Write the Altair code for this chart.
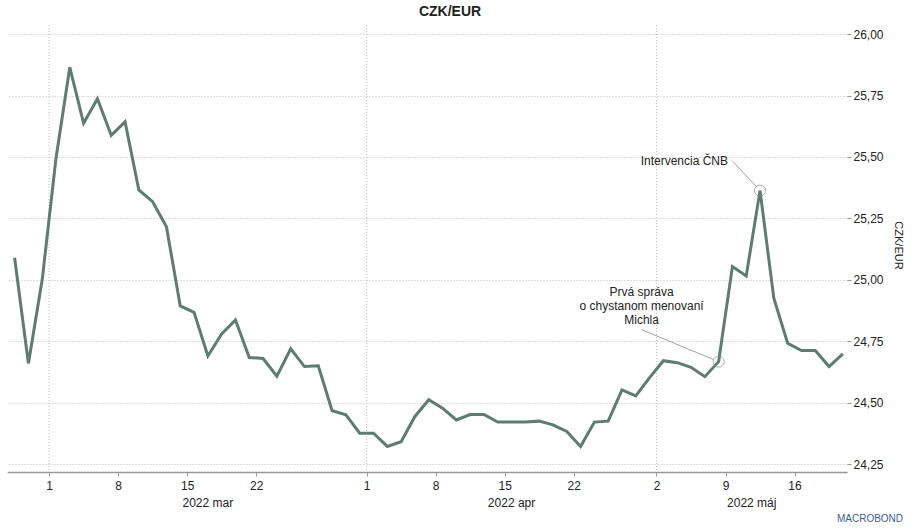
import altair as alt
import pandas as pd

# Daily CZK/EUR fixing, business days 24 Feb 2022 - 19 May 2022
dates = pd.bdate_range("2022-02-24", "2022-05-19")
rate = [25.09, 24.66, 25.00, 25.495, 25.865, 25.637, 25.737, 25.588, 25.643, 25.366,
        25.318, 25.216, 24.894, 24.868, 24.690, 24.780, 24.837, 24.684, 24.680, 24.608,
        24.719, 24.647, 24.650, 24.467, 24.451, 24.376, 24.376, 24.322, 24.341, 24.444,
        24.512, 24.478, 24.430, 24.452, 24.452, 24.421, 24.421, 24.421, 24.425, 24.410,
        24.383, 24.322, 24.421, 24.425, 24.552, 24.528, 24.602, 24.671, 24.663, 24.644,
        24.606, 24.667, 25.054, 25.016, 25.363, 24.925, 24.742, 24.712, 24.712, 24.647,
        24.699]

tick_dates = ["2022-03-01", "2022-03-08", "2022-03-15", "2022-03-22",
              "2022-04-01", "2022-04-08", "2022-04-15", "2022-04-22",
              "2022-05-02", "2022-05-09", "2022-05-16"]
month_starts = ["2022-03-01", "2022-04-01", "2022-05-02"]
month_names = ["2022 mar", "2022 apr", "2022 máj"]
y_ticks = [24.25, 24.50, 24.75, 25.00, 25.25, 25.50, 25.75, 26.00]

# annotated days and their labels
note_dates = ["2022-05-11", "2022-05-06"]
note_lines = [["Intervencia ČNB"], ["Prvá správa", "o chystanom menovaní", "Michla"]]

# ---- geometry of the plot area ----
W, H = 840, 447
X_DOM = [-0.55, 60.3]
Y_DOM = [24.218, 26.037]
LINE_COLOR = "#5e7c74"
GRID_COLOR = "#bdbdbd"
AXIS_COLOR = "#9a9a9a"
FONT = "Liberation Sans"

pos = {d.strftime("%Y-%m-%d"): i for i, d in enumerate(dates)}
df = pd.DataFrame({"i": range(len(dates)), "v": rate})

# axis ticks sit half a day before each labelled date
tick_vals = [pos[d] - 0.5 for d in tick_dates]
tick_text = [str(pd.Timestamp(d).day) for d in tick_dates]
label_expr = "[{}][indexof([{}], datum.value)]".format(
    ",".join("'%s'" % t for t in tick_text), ",".join(str(t) for t in tick_vals))

grid_df = pd.DataFrame({"i": [pos[d] - 0.5 for d in month_starts]})

# month captions centred on the visible part of each month
edges = [pos[d] - 0.5 for d in month_starts] + [X_DOM[1]]
month_df = pd.DataFrame({
    "i": [(edges[k] + edges[k + 1]) / 2 for k in range(len(month_names))],
    "t": month_names,
})

px_x = (X_DOM[1] - X_DOM[0]) / W
px_y = (Y_DOM[1] - Y_DOM[0]) / H

# label placement in pixels relative to the marked point:
# (text anchor dx, first-line dy, alignment, leader start dx, leader start dy)
placement = [(-32, -30, "right", -28, -30), (-77, -70, "center", -77, -32)]
R = 5.5  # marker radius in px

marks, leaders, texts = [], [], []
for d, lines, (tdx, tdy, al, lx, ly) in zip(note_dates, note_lines, placement):
    i = pos[d]
    v = rate[i]
    marks.append({"i": i, "v": v})
    L = (lx ** 2 + ly ** 2) ** 0.5
    ex, ey = lx * R / L, ly * R / L
    leaders.append({"i": i + lx * px_x, "v": v - ly * px_y,
                    "i2": i + ex * px_x, "v2": v - ey * px_y})
    for k, t in enumerate(lines):
        texts.append({"i": i + tdx * px_x, "v": v - (tdy + 14.3 * k) * px_y,
                      "t": t, "al": al})

mark_df = pd.DataFrame(marks)
lead_df = pd.DataFrame(leaders)
text_right = pd.DataFrame([t for t in texts if t["al"] == "right"])
text_center = pd.DataFrame([t for t in texts if t["al"] == "center"])

xs = alt.Scale(domain=X_DOM, nice=False, zero=False)
ys = alt.Scale(domain=Y_DOM, nice=False, zero=False)

x_axis = alt.Axis(values=tick_vals, labelExpr=label_expr, grid=False,
                  domainColor=AXIS_COLOR, domainWidth=1.5, tickColor=AXIS_COLOR,
                  tickSize=4, labelPadding=4, labelFontSize=12, labelColor="#222",
                  labelFont=FONT, labelOverlap=False, title=None)
y_axis = alt.Axis(orient="right", values=y_ticks, domain=False,
                  labelExpr="replace(format(datum.value, '.2f'), '.', ',')",
                  grid=True, gridDash=[1, 2], gridColor=GRID_COLOR,
                  tickColor=AXIS_COLOR, tickSize=4, labelPadding=2,
                  labelFontSize=12, labelColor="#222", labelFont=FONT,
                  title="CZK/EUR", titleAngle=90, titleFontSize=11,
                  titleFontWeight="normal", titleColor="#222", titleFont=FONT,
                  titleX=50, titleY=220, titleAlign="center", titleBaseline="middle")

# month-start vertical gridlines (drawn first, under the series)
grid = alt.Chart(grid_df).mark_rule(color=GRID_COLOR, strokeDash=[1, 2]).encode(
    x=alt.X("i:Q", scale=xs, axis=x_axis))

line = alt.Chart(df).mark_line(color=LINE_COLOR, strokeWidth=3).encode(
    x=alt.X("i:Q", scale=xs, axis=x_axis),
    y=alt.Y("v:Q", scale=ys, axis=y_axis))

circles = alt.Chart(mark_df).mark_point(
    shape="circle", size=4 * R * R, color="#8a8a8a", strokeWidth=1, filled=False
).encode(x=alt.X("i:Q", scale=xs), y=alt.Y("v:Q", scale=ys))

lead = alt.Chart(lead_df).mark_rule(color="#8a8a8a", strokeWidth=0.8).encode(
    x=alt.X("i:Q", scale=xs), y=alt.Y("v:Q", scale=ys), x2="i2:Q", y2="v2:Q")

note_r = alt.Chart(text_right).mark_text(
    align="right", baseline="middle", fontSize=12, font=FONT, color="#222"
).encode(x=alt.X("i:Q", scale=xs), y=alt.Y("v:Q", scale=ys), text="t:N")

note_c = alt.Chart(text_center).mark_text(
    align="center", baseline="middle", fontSize=12, font=FONT, color="#222"
).encode(x=alt.X("i:Q", scale=xs), y=alt.Y("v:Q", scale=ys), text="t:N")

months = alt.Chart(month_df).mark_text(
    align="center", baseline="middle", fontSize=12, font=FONT, color="#222"
).encode(x=alt.X("i:Q", scale=xs), y=alt.value(H + 31), text="t:N")

logo = alt.Chart(pd.DataFrame({"t": ["MACROBOND"]})).mark_text(
    align="center", baseline="middle", fontSize=10, font=FONT, color="#3b5f8f"
).encode(x=alt.value(W + 23), y=alt.value(H + 47), text="t:N")

chart = alt.layer(grid, line, lead, circles, note_r, note_c, months, logo).properties(
    width=W, height=H,
    background="white",
    title=alt.TitleParams("CZK/EUR", fontSize=14, fontWeight="bold", font=FONT,
                          color="#222", anchor="middle", dx=23, offset=6),
    autosize=alt.AutoSizeParams(type="none"),
    padding={"left": 7, "top": 25, "right": 65, "bottom": 57},
).configure_view(stroke=None)

chart.save("out.html", embed_options={"renderer": "svg", "actions": False})
